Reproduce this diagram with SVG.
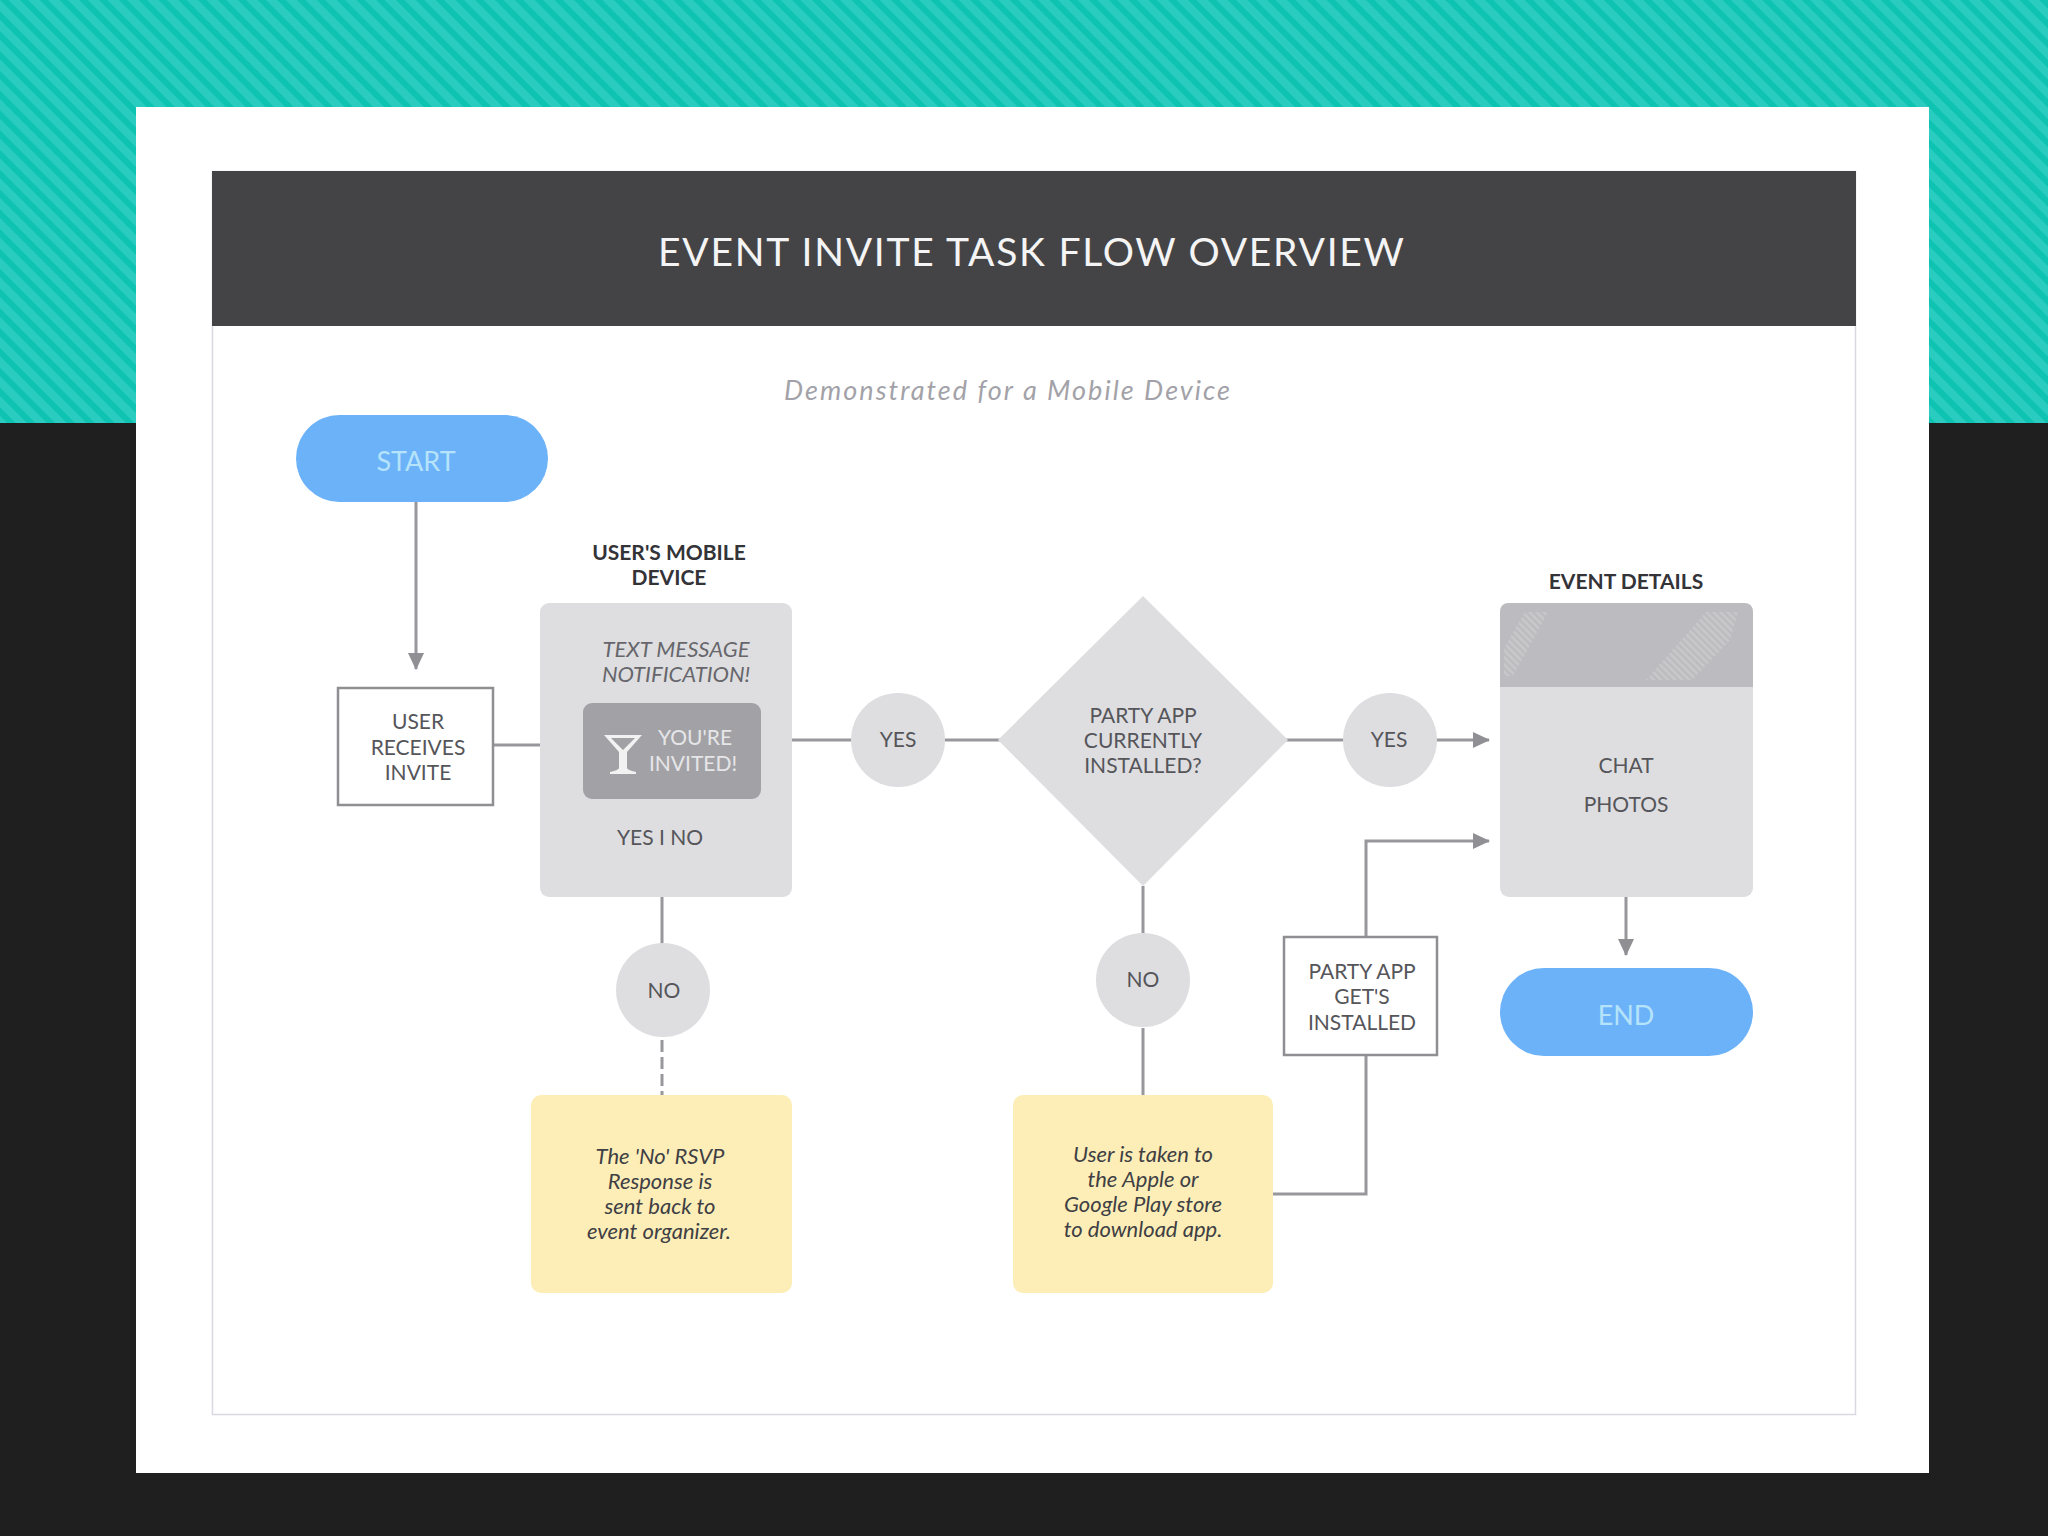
<svg xmlns="http://www.w3.org/2000/svg" width="2048" height="1536" viewBox="0 0 2048 1536">
<style>
text{font-family:"Lato","Liberation Sans",sans-serif;text-anchor:middle}
.l{font-size:21px;fill:#55555a}
.b{font-size:21px;font-weight:700;fill:#333338}
.i{font-size:22px;font-style:italic;fill:#3f3f44}
.ti{font-size:22px;font-style:italic;fill:#66666b}
.w{font-size:27px;fill:#b5e3fa}
.wh{font-size:21px;fill:#e6e6e8}
.c{fill:none;stroke:#97979c;stroke-width:3}
.g{fill:#dedee1}
.y{fill:#fdeeb8}
.box{fill:#fff;stroke:#8e8e93;stroke-width:2.500}
.blue{fill:#6cb2f9}
</style>
<defs>
<pattern id="st" width="14" height="14" patternUnits="userSpaceOnUse" patternTransform="rotate(45)">
<rect width="14" height="14" fill="#0fc3b2"/><rect width="14" height="8" fill="#2accc0"/>
</pattern>
<pattern id="dots" width="5" height="5" patternUnits="userSpaceOnUse" patternTransform="rotate(45)">
<rect width="5" height="5" fill="#bcbcc0"/><rect width="5" height="2.500" fill="#c8c8cb"/>
</pattern>
<marker id="ah" markerUnits="userSpaceOnUse" markerWidth="18" markerHeight="18" refX="16" refY="9" orient="auto"><path d="M0 1L17 9L0 17Z" fill="#8f8f94"/></marker>
</defs>
<g id="background">
<rect width="2048" height="423" fill="url(#st)"/>
<rect y="423" width="2048" height="1113" fill="#1f1f20"/>
<rect x="136" y="107" width="1793" height="1366" fill="#fff"/>
<rect x="212.500" y="171.500" width="1643" height="1243" fill="#fff" stroke="#d9d9e3" stroke-width="1.500"/>
</g>
<g id="header">
<rect x="212" y="171" width="1644" height="155" fill="#444446"/>
<text x="1031" y="266" font-size="39" fill="#f4f4f4" textLength="746" lengthAdjust="spacing">EVENT INVITE TASK FLOW OVERVIEW</text>
</g>
<text id="subtitle" x="1007" y="400" font-size="27" font-style="italic" fill="#a2a2a8" textLength="446">Demonstrated for a Mobile Device</text>
<g id="connectors">
<path class="c" d="M416 502V669" marker-end="url(#ah)"/>
<path class="c" d="M494 745H541"/>
<path class="c" d="M792 740H851"/>
<path class="c" d="M945 740H1000"/>
<path class="c" d="M1286 740H1344"/>
<path class="c" d="M1436 740H1489" marker-end="url(#ah)"/>
<path class="c" d="M1143 886V934"/>
<path class="c" d="M1143 1028V1096"/>
<path class="c" d="M662 897V946"/>
<path class="c" d="M662 1040V1096" stroke-dasharray="12 5"/>
<path class="c" d="M1272 1194H1366V841H1489" marker-end="url(#ah)"/>
<path class="c" d="M1626 897V955" marker-end="url(#ah)"/>
</g>
<g id="start"><rect class="blue" x="296" y="415" width="252" height="87" rx="43.500"/><text class="w" x="416" y="471">START</text></g>
<g id="user-receives"><rect class="box" x="338" y="688" width="155" height="117"/>
<text class="l" x="418" y="729">USER</text><text class="l" x="418" y="755">RECEIVES</text><text class="l" x="418" y="780">INVITE</text></g>
<g id="mobile-device">
<text class="b" x="669" y="560">USER'S MOBILE</text><text class="b" x="669" y="585">DEVICE</text>
<rect class="g" x="540" y="603" width="252" height="294" rx="9"/>
<text class="ti" x="676" y="657">TEXT MESSAGE</text><text class="ti" x="676" y="682">NOTIFICATION!</text>
<rect x="583" y="703" width="178" height="96" rx="9" fill="#a2a2a6"/>
<path d="M604 735H642L627 752V768Q627 770 636 772V774H610V772Q619 770 619 768V752Z M611 738L623 750L635 738Z" fill="#f2f2f2" fill-rule="evenodd"/>
<text class="wh" x="695" y="745">YOU'RE</text><text class="wh" x="693" y="771">INVITED!</text>
<text class="l" x="660" y="845">YES  I  NO</text>
</g>
<g id="no-1"><circle class="g" cx="663" cy="990" r="47"/><text class="l" x="664" y="998">NO</text></g>
<g id="rsvp"><rect class="y" x="531" y="1095" width="261" height="198" rx="10"/>
<text class="i" x="660" y="1164">The 'No' RSVP</text><text class="i" x="660" y="1189">Response is</text><text class="i" x="660" y="1214">sent back to</text><text class="i" x="659" y="1239">event organizer.</text></g>
<g id="yes-1"><circle class="g" cx="898" cy="740" r="47"/><text class="l" x="898" y="747">YES</text></g>
<g id="decision"><path class="g" d="M1143 596L1288 740L1143 886L998 740Z"/>
<text class="l" x="1143" y="723">PARTY APP</text><text class="l" x="1143" y="748">CURRENTLY</text><text class="l" x="1143" y="773">INSTALLED?</text></g>
<g id="yes-2"><circle class="g" cx="1390" cy="740" r="47"/><text class="l" x="1389" y="747">YES</text></g>
<g id="no-2"><circle class="g" cx="1143" cy="980" r="47"/><text class="l" x="1143" y="987">NO</text></g>
<g id="store"><rect class="y" x="1013" y="1095" width="260" height="198" rx="10"/>
<text class="i" x="1143" y="1162">User is taken to</text><text class="i" x="1143" y="1187">the Apple or</text><text class="i" x="1143" y="1212">Google Play store</text><text class="i" x="1143" y="1237">to download app.</text></g>
<g id="installed"><rect class="box" x="1284" y="937" width="153" height="118"/>
<text class="l" x="1362" y="979">PARTY APP</text><text class="l" x="1362" y="1004">GET'S</text><text class="l" x="1362" y="1030">INSTALLED</text></g>
<g id="event-details">
<text class="b" x="1626" y="589">EVENT DETAILS</text>
<rect class="g" x="1500" y="603" width="253" height="294" rx="9"/>
<path d="M1500 687V612Q1500 603 1509 603H1744Q1753 603 1753 612V687Z" fill="#bcbcc0"/>
<path d="M1504 648L1525 612H1548L1513 676H1504Z M1646 680L1706 612H1738L1730 640L1692 680Z" fill="url(#dots)"/>
<text class="l" x="1626" y="773">CHAT</text><text class="l" x="1626" y="812">PHOTOS</text>
</g>
<g id="end"><rect class="blue" x="1500" y="968" width="253" height="88" rx="44"/><text class="w" x="1626" y="1025">END</text></g>
</svg>
